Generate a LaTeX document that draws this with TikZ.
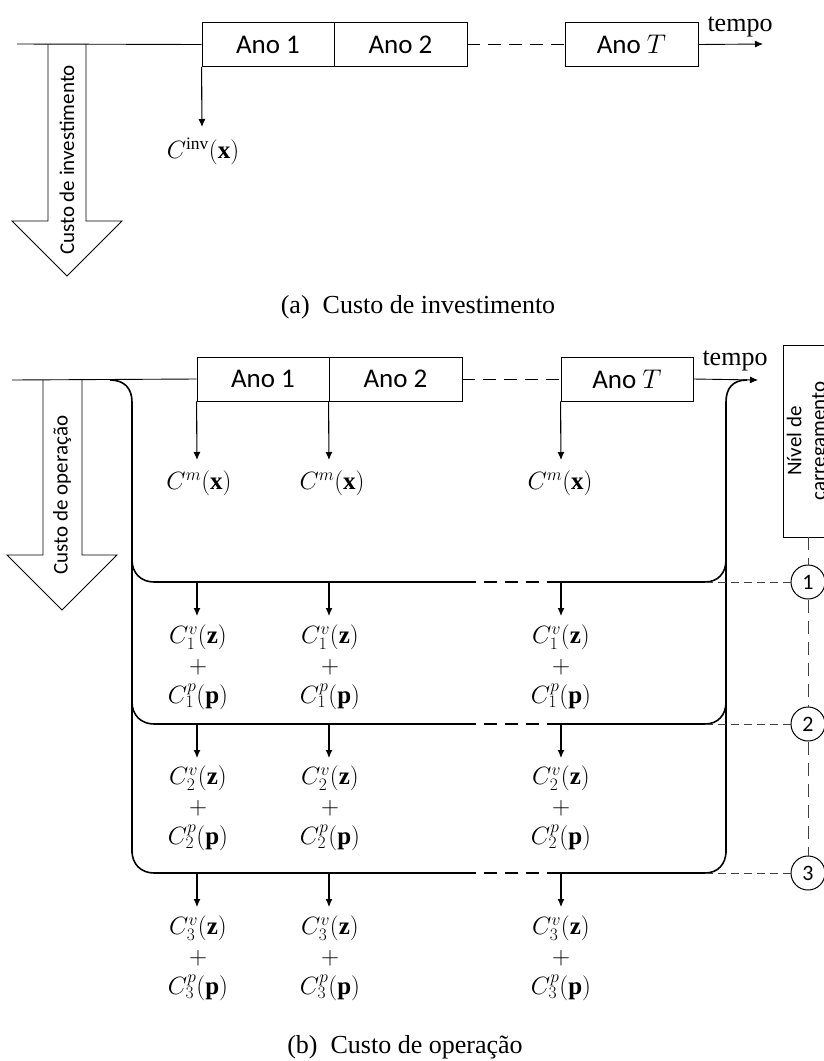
\RequirePackage{fix-cm}
\documentclass[tikz,border=0pt]{standalone}
\usepackage{fontspec}
\setmainfont{Liberation Serif}
\newfontfamily\calibfont{Carlito}
\usetikzlibrary{arrows.meta}
\begin{document}
\begin{tikzpicture}[x=1pt,y=-1pt,
  yearbox/.style={draw, line width=0.9pt, minimum height=44pt, inner sep=0pt,
    font=\calibfont\fontsize{27}{32}\selectfont},
  thinline/.style={line width=0.9pt},
  tldash/.style={line width=0.9pt, dash pattern=on 13pt off 8pt},
  costarrow/.style={line width=1.1pt, -{Latex[length=8pt,width=7pt]}},
  bigarrow/.style={line width=0.8pt},
  vtext/.style={rotate=90, inner sep=0pt, font=\calibfont\fontsize{21}{25}\selectfont},
  serif/.style={inner sep=0pt, font=\fontsize{26}{30}\selectfont},
  mathlbl/.style={inner sep=0pt, align=center, font=\fontsize{25}{30}\selectfont},
  brace/.style={line width=1.6pt},
  bracedash/.style={line width=1.6pt, dash pattern=on 13pt off 8pt},
  linkdash/.style={line width=0.9pt, black!75, dash pattern=on 8pt off 5pt},
  leveldash/.style={line width=0.9pt, black!75, dash pattern=on 13pt off 8pt},
  levelcircle/.style={draw, circle, line width=1pt, minimum size=34pt, inner sep=0pt,
    font=\calibfont\fontsize{22}{26}\selectfont},
]
\path[use as bounding box] (0,0) rectangle (824,1061);
\clip (0,0) rectangle (824,1061);

% ---------------- (a) ----------------
\coordinate (aStart) at (17,44);
\node[yearbox, minimum width=132pt] (a1) at (268,44.5) {Ano 1};
\node[yearbox, minimum width=133pt] (a2) at (400.5,44.5) {Ano 2};
\node[yearbox, minimum width=133pt] (aT) at (631.5,44.5) {Ano $T$};
\coordinate (aEnd) at (763,44);
\draw[thinline] (aStart) -- (a1.west);
\draw[tldash] (a2.east) -- (aT.west);
\draw[thinline, -{Latex[length=8pt,width=7pt]}] (aT.east) -- (aEnd);
\node[serif] (atempo) at (740,27) {tempo};
\coordinate (ainvEnd) at (202,127);
\draw[costarrow] (a1.south west) -- (ainvEnd);
\node[mathlbl] (ainv) at (203,151) {$C^{\mathrm{inv}}(\mathbf{x})$};
\draw[bigarrow] (48,44) -- (48,221) -- (12,221) -- (67,276) -- (122,221) -- (86,221) -- (86,44);
\node[vtext] (ainvtxt) at (67,160) {Custo de investimento};
\node[serif] (capa) at (418,307) {(a)\enspace Custo de investimento};

% ---------------- (b) ----------------
\coordinate (bStart) at (12,380);
\node[yearbox, minimum width=132pt] (b1) at (263,379) {Ano 1};
\node[yearbox, minimum width=133pt] (b2) at (395.5,379) {Ano 2};
\node[yearbox, minimum width=132pt] (bT) at (627,379) {Ano $T$};
\coordinate (bEnd) at (758,380);
\draw[thinline] (bStart) -- (b1.west);
\draw[tldash] (b2.east) -- (bT.west);
\draw[thinline, -{Latex[length=8pt,width=7pt]}] (bT.east) -- (bEnd);
\node[serif] (btempo) at (735,361) {tempo};
\draw[bigarrow] (43,380) -- (43,555) -- (7,555) -- (62,610) -- (117,555) -- (82,555) -- (82,380);
\node[vtext] (bopetxt) at (62,495) {Custo de operação};

% maintenance cost arrows
\coordinate (m1) at (197,460);
\coordinate (m2) at (329,460);
\coordinate (mT) at (561,460);
\draw[costarrow] (b1.south west) -- (m1);
\draw[costarrow] (b2.south west) -- (m2);
\draw[costarrow] (bT.south west) -- (mT);
\node[mathlbl] (cm1) at (199,483) {$C^{m}(\mathbf{x})$};
\node[mathlbl] (cm2) at (332,483) {$C^{m}(\mathbf{x})$};
\node[mathlbl] (cmT) at (560,483) {$C^{m}(\mathbf{x})$};

% braces
\draw[brace] (110,380) .. controls (124,380) and (132,388) .. (132,402) -- (132,853);
\draw[brace] (726,853) -- (726,402) .. controls (726,388) and (733,380) .. (747,380);
\foreach \L in {582,724,873}{
  \draw[brace] (132,\L-22) .. controls (132,\L-9) and (141,\L) .. (154,\L) -- (463,\L);
  \draw[bracedash] (463,\L) -- (555,\L);
  \draw[brace] (555,\L) -- (705,\L) .. controls (718,\L) and (726,\L-9) .. (726,\L-22);
}

% level box and circles
\node[draw, line width=0.9pt, rotate=90, minimum width=192pt, minimum height=50pt,
  inner sep=0pt, align=center, font=\calibfont\fontsize{21}{24}\selectfont]
  (nivel) at (808,441) {Nível de\\carregamento};
\node[levelcircle] (c1) at (808,582) {1};
\node[levelcircle] (c2) at (808,724) {2};
\node[levelcircle] (c3) at (808,873) {3};
\coordinate (h1) at (705,582);
\coordinate (h2) at (705,724);
\coordinate (h3) at (705,873);
\draw[linkdash] (h1) -- (c1.west);
\draw[linkdash] (h2) -- (c2.west);
\draw[linkdash] (h3) -- (c3.west);
\draw[leveldash] (nivel.west) -- (c1.north);
\draw[leveldash] (c1.south) -- (c2.north);
\draw[leveldash] (c2.south) -- (c3.north);

% operation cost rows
\foreach \k/\L/\M in {1/582/667, 2/724/808, 3/873/958}{
  \coordinate (s1\k) at (197,\L);
  \coordinate (s2\k) at (329,\L);
  \coordinate (sT\k) at (561,\L);
  \coordinate (e1\k) at (197,\L+34);
  \coordinate (e2\k) at (329,\L+34);
  \coordinate (eT\k) at (561,\L+34);
  \draw[costarrow] (s1\k) -- (e1\k);
  \draw[costarrow] (s2\k) -- (e2\k);
  \draw[costarrow] (sT\k) -- (eT\k);
  \node[mathlbl] (r1\k) at (198,\M) {$C_{\k}^{v}(\mathbf{z})$\\$+$\\$C_{\k}^{p}(\mathbf{p})$};
  \node[mathlbl] (r2\k) at (330,\M) {$C_{\k}^{v}(\mathbf{z})$\\$+$\\$C_{\k}^{p}(\mathbf{p})$};
  \node[mathlbl] (rT\k) at (561,\M) {$C_{\k}^{v}(\mathbf{z})$\\$+$\\$C_{\k}^{p}(\mathbf{p})$};
}

\node[serif] (capb) at (405,1047) {(b)\enspace Custo de operação};
\end{tikzpicture}
\end{document}
